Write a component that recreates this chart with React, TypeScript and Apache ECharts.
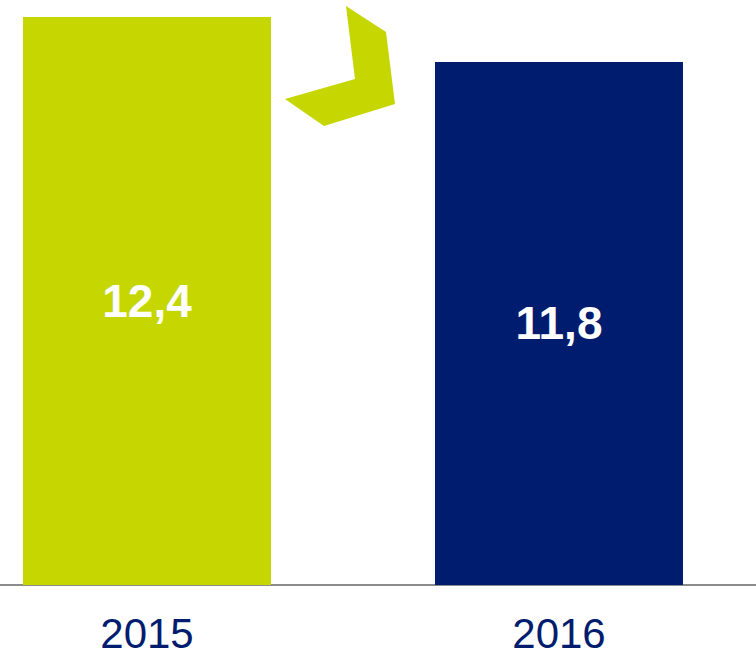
import React, { useEffect, useRef } from "react";
import * as echarts from "echarts";

const categories = ["2015", "2016"];
const values = [12.4, 11.8];
const barColors = ["#C5D600", "#001C6E"];

export default function App() {
  const ref = useRef<HTMLDivElement>(null);
  useEffect(() => {
    document.body.style.margin = "0";
    if (!ref.current) return;
    const chart = echarts.init(ref.current, null, { renderer: "svg" });
    chart.setOption({
      animation: false,
      grid: { left: 0, right: 0, top: 17, bottom: 70, containLabel: false },
      xAxis: {
        type: "value",
        min: -0.3568,
        max: 1.4782,
        splitLine: { show: false },
        axisLine: { show: true, onZero: false, lineStyle: { color: "#8C8C8C", width: 2 } },
        axisTick: { show: false },
        axisLabel: {
          customValues: categories.map((_, i) => i),
          formatter: (v: number) => categories[Math.round(v)] ?? "",
          color: "#001C6E",
          fontSize: 42,
          lineHeight: 30,
          fontFamily: "Liberation Sans, Arial, sans-serif",
          margin: 33,
        },
      },
      yAxis: {
        type: "value",
        min: 4.82,
        max: 12.4,
        show: false,
        splitLine: { show: false },
      },
      series: [
        {
          type: "bar",
          barWidth: 248,
          data: values.map((v, i) => ({ value: [i, v], itemStyle: { color: barColors[i] } })),
          label: {
            show: true,
            position: "inside",
            color: "#ffffff",
            fontSize: 46,
            fontWeight: "bold",
            fontFamily: "Liberation Sans, Arial, sans-serif",
            formatter: (p: any) => String(p.value[1]).replace(".", ","),
          },
        },
      ],
      graphic: [
        {
          type: "polygon",
          shape: {
            points: [
              [346, 6],
              [386, 32],
              [395, 104],
              [324, 126],
              [285, 99],
              [355, 79],
            ],
          },
          style: { fill: "#C5D600" },
        },
      ],
    });
    return () => chart.dispose();
  }, []);
  return <div ref={ref} style={{ width: 756, height: 655 }} />;
}
